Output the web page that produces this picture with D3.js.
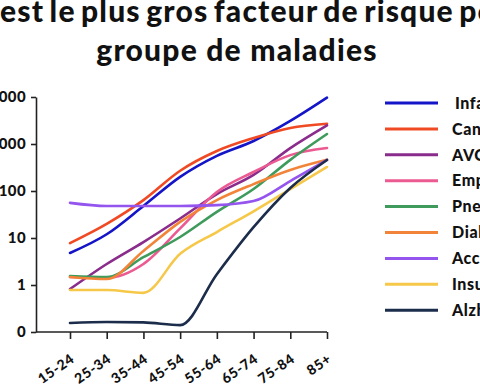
<!DOCTYPE html>
<html>
<head>
<meta charset="utf-8">
<script src="https://cdn.jsdelivr.net/npm/d3@7"></script>
<style>
  body { margin: 0; background: #fff; }
  svg { display: block; font-family: Lato, "Open Sans", sans-serif; }
</style>
</head>
<body>
<div id="chart"></div>
<script>
// values (log axis, the "0" tick sits where 0.1 would be)
const ageGroups = ["15-24", "25-34", "35-44", "45-54", "55-64", "65-74", "75-84", "85+"];

const infarctus    = [4.8, 12, 48, 200, 560, 1160, 3100, 9700];
const cancer       = [7.8, 20, 64, 270, 710, 1340, 2200, 2700];
const avc          = [0.82, 2.8, 8.2, 26, 86, 220, 820, 2500];
const emphyseme    = [1.48, 1.41, 2.8, 16, 95, 254, 580, 820];
const pneumonie    = [1.55, 1.48, 3.9, 10.5, 36, 110, 460, 1630];
const diabete      = [1.48, 1.34, 5.3, 22, 64, 140, 280, 460];
const accident     = [56, 48, 48, 48, 50, 61, 163, 457];
const insuffisance = [0.78, 0.78, 0.68, 4.6, 13.4, 37, 110, 324];
const alzheimer    = [0.155, 0.163, 0.16, 0.14, 1.7, 17, 116, 457];

const seriesNames  = ["Infarctus", "Cancer", "AVC", "Emphysème", "Pneumonie",
                      "Diabète", "Accident", "Insuffisance rénale", "Alzheimer"];
const seriesValues = [infarctus, cancer, avc, emphyseme, pneumonie,
                      diabete, accident, insuffisance, alzheimer];
const seriesColors = ["#1414c8", "#f04a24", "#8a2c8c", "#ec5a92", "#3f9b5c",
                      "#f2843a", "#9454ee", "#f6c84a", "#1c2d4c"];

const yTickValues = [0.1, 1, 10, 100, 1000, 10000];
const yTickLabels = ["0", "1", "10", "100", "1000", "10000"];

const titleHidden = "Quel ";
const titleLines = [titleHidden + "est le plus gros facteur de risque pour", "groupe de maladies"];

const width = 480, height = 384;
const plot = { left: 36, top: 97, bottom: 332, firstX: 70, lastX: 327 };

const svg = d3.select("#chart").append("svg")
  .attr("width", width).attr("height", height);

// title: first line is wider than the frame, "est" starts at the left edge
const title = svg.append("g")
  .attr("font-size", 30).attr("font-weight", 900).attr("fill", "#111")
  .attr("letter-spacing", 1.2);
const t1 = title.append("text").attr("y", 22).attr("word-spacing", -3).text(titleLines[0]);
t1.attr("x", -t1.node().getSubStringLength(0, titleHidden.length));
title.append("text").attr("x", 237).attr("y", 61)
  .attr("text-anchor", "middle").text(titleLines[1]);

const x = d3.scalePoint().domain(ageGroups).range([plot.firstX, plot.lastX]);
const y = d3.scaleLog().domain([0.1, 10000]).range([plot.bottom, plot.top]);

// y axis
const yAxis = svg.append("g")
  .attr("transform", `translate(${plot.left},0)`)
  .call(d3.axisLeft(y).tickValues(yTickValues)
    .tickFormat((d, i) => yTickLabels[i]).tickSize(5).tickSizeOuter(0).tickPadding(5));

// x axis, its base line runs back to the y axis
const xAxis = svg.append("g")
  .attr("transform", `translate(0,${plot.bottom})`)
  .call(d3.axisBottom(x).tickSize(7).tickSizeOuter(0));
xAxis.select(".domain").attr("d", `M${plot.left},0H${x.range()[1]}`);

[yAxis, xAxis].forEach(a => {
  a.selectAll(".domain, .tick line").attr("stroke", "#222").attr("stroke-width", 1.6);
  a.selectAll(".tick text").attr("fill", "#111").attr("font-size", 15).attr("font-weight", 900)
    .attr("font-family", "Lato, sans-serif").attr("letter-spacing", 0.4);
});

xAxis.selectAll(".tick text")
  .attr("font-size", 14).attr("letter-spacing", 0.6)
  .attr("text-anchor", "end")
  .attr("y", 0).attr("dy", 0)
  .attr("transform", "translate(5,29) rotate(-35)");

// series
const line = d3.line()
  .x((d, i) => x(ageGroups[i]))
  .y(d => y(d))
  .curve(d3.curveMonotoneX);

svg.append("g").attr("fill", "none").attr("stroke-width", 2.6).attr("stroke-linecap", "round")
  .selectAll("path").data(seriesValues).join("path")
  .attr("stroke", (d, i) => seriesColors[i])
  .attr("d", line);

// legend
const legend = svg.append("g").selectAll("g").data(seriesNames).join("g")
  .attr("transform", (d, i) => `translate(385,${103 + i * 25.9})`);
legend.append("line")
  .attr("x1", 0).attr("x2", 53)
  .attr("stroke", (d, i) => seriesColors[i]).attr("stroke-width", 3);
legend.append("text")
  .attr("x", (d, i) => i === 0 ? 70 : 67)
  .attr("dy", "0.36em")
  .attr("font-size", 16).attr("font-weight", 900).attr("fill", "#111")
  .attr("letter-spacing", 0.6)
  .text(d => d);
</script>
</body>
</html>
